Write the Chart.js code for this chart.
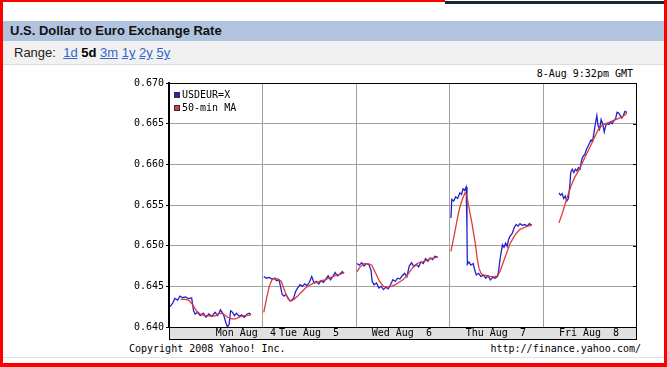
<!DOCTYPE html>
<html>
<head>
<meta charset="utf-8">
<script src="https://cdn.jsdelivr.net/npm/chart.js@4.4.0/dist/chart.umd.min.js"></script>
<style>
  body { margin: 0; width: 667px; height: 367px; overflow: hidden; background: #fff; position: relative; font-family: "Liberation Sans", Arial, sans-serif; }
  .frame { position: absolute; left: 0; top: 0; width: 667px; height: 367px; box-sizing: border-box; border-left: 3px solid #f00; border-right: 3px solid #f00; border-bottom: 4px solid #f00; }
  .top-red { position: absolute; left: 0; top: 0; width: 445px; height: 2px; background: #f00; }
  .top-navy { position: absolute; left: 445px; top: 1px; width: 219px; height: 3px; background: #1b2433; }
  .title { position: absolute; left: 3px; top: 21px; width: 661px; height: 20px; background: #b0c4de; color: #111; font-weight: bold; font-size: 13px; line-height: 20px; padding-left: 7px; box-sizing: border-box; }
  .range { position: absolute; left: 3px; top: 41px; width: 661px; height: 24px; background: #f1f1f1; border-bottom: 1px solid #dcdcdc; box-sizing: border-box; color: #222; font-size: 13px; line-height: 23px; padding-left: 11px; }
  .range a { color: #3366cc; text-decoration: underline; }
  .range b { color: #000; }
  .mono { position: absolute; font-family: "DejaVu Sans Mono", monospace; font-size: 10px; line-height: 12px; color: #000; white-space: pre; }
  .bottom-line { position: absolute; left: 3px; top: 357px; width: 661px; height: 1px; background: #e2e2e2; }
  #wrap { position: absolute; left: 100px; top: 70px; width: 560px; height: 280px; }
</style>
</head>
<body>
<div class="frame"></div>
<div class="top-red"></div>
<div class="top-navy"></div>
<div class="title">U.S. Dollar to Euro Exchange Rate</div>
<div class="range">Range:&nbsp; <a>1d</a> <b>5d</b> <a>3m</a> <a>1y</a> <a>2y</a> <a>5y</a></div>
<div class="mono" style="right:34px;top:68px;">8-Aug 9:32pm GMT</div>
<div class="mono" style="left:129px;top:343px;">Copyright 2008 Yahoo! Inc.</div>
<div class="mono" style="right:26px;top:343px;">http://finance.yahoo.com/</div>
<div class="bottom-line"></div>
<div id="wrap"><canvas id="chart"></canvas></div>

<script>
// hours since Mon 00:00 GMT, rate
const rateMon = [[0.3,0.6425],[1.0,0.6430],[1.5,0.6435],[2.2,0.6433],[2.8,0.6438],[3.5,0.6436],[4.2,0.6437],[5.0,0.6435],[5.8,0.6436],[6.3,0.6420],[6.7,0.6416],[7.3,0.6418],[8.0,0.6414],[8.8,0.6417],[9.5,0.6412],[10.2,0.6416],[11.0,0.6413],[11.8,0.6418],[12.5,0.6414],[13.2,0.6421],[14.0,0.6415],[14.6,0.6405],[15.0,0.6400],[15.4,0.6403],[15.8,0.6420],[16.3,0.6418],[16.8,0.6414],[17.3,0.6417],[18.0,0.6413],[18.6,0.6415],[19.3,0.6412],[20.0,0.6416],[20.6,0.6417],[21.0,0.6415]];
const rateTue = [[24.3,0.6462],[25.0,0.6460],[25.7,0.6461],[26.4,0.6459],[27.0,0.6460],[27.6,0.6457],[28.2,0.6458],[28.6,0.6450],[29.0,0.6440],[29.5,0.6438],[30.0,0.6440],[30.5,0.6436],[31.0,0.6432],[31.5,0.6433],[32.0,0.6436],[32.4,0.6443],[33.0,0.6448],[33.6,0.6452],[34.2,0.6450],[34.8,0.6453],[35.4,0.6451],[36.0,0.6455],[36.6,0.6462],[37.2,0.6454],[37.8,0.6456],[38.4,0.6453],[39.0,0.6457],[39.6,0.6455],[40.2,0.6459],[40.8,0.6463],[41.4,0.6458],[42.0,0.6462],[42.6,0.6467],[43.2,0.6463],[43.8,0.6465],[44.4,0.6468],[44.9,0.6466]];
const rateWed = [[48.2,0.6478],[48.8,0.6476],[49.4,0.6479],[50.0,0.6475],[50.6,0.6478],[51.2,0.6477],[51.8,0.6470],[52.1,0.6456],[52.6,0.6452],[53.2,0.6454],[53.8,0.6448],[54.4,0.6450],[55.0,0.6446],[55.6,0.6449],[56.2,0.6447],[56.8,0.6452],[57.4,0.6458],[58.0,0.6456],[58.6,0.6460],[59.2,0.6459],[59.8,0.6463],[60.4,0.6466],[61.0,0.6462],[61.6,0.6475],[62.2,0.6479],[62.8,0.6474],[63.4,0.6477],[64.0,0.6474],[64.6,0.6480],[65.2,0.6478],[65.8,0.6484],[66.4,0.6481],[67.0,0.6485],[67.6,0.6483],[68.2,0.6487],[68.9,0.6486]];
const rateThu = [[72.3,0.6534],[72.5,0.6557],[73.0,0.6555],[73.5,0.6560],[74.0,0.6558],[74.6,0.6565],[75.0,0.6563],[75.4,0.6570],[75.8,0.6568],[76.2,0.6572],[76.4,0.6520],[76.5,0.6477],[76.9,0.6480],[77.4,0.6476],[78.0,0.6478],[78.4,0.6470],[78.8,0.6464],[79.4,0.6466],[80.0,0.6462],[80.6,0.6464],[81.2,0.6460],[81.8,0.6463],[82.4,0.6458],[83.0,0.6461],[83.6,0.6460],[84.2,0.6462],[84.5,0.6468],[84.8,0.6480],[85.1,0.6490],[85.5,0.6501],[85.9,0.6498],[86.3,0.6503],[86.7,0.6499],[87.1,0.6508],[87.5,0.6512],[88.0,0.6515],[88.5,0.6522],[89.0,0.6526],[89.5,0.6524],[90.0,0.6527],[90.6,0.6525],[91.2,0.6526],[91.8,0.6524],[92.4,0.6527],[93.0,0.6525]];
const rateFri = [[100.0,0.6565],[100.4,0.6562],[100.8,0.6564],[101.2,0.6558],[101.6,0.6561],[102.0,0.6555],[102.4,0.6558],[102.8,0.6575],[103.0,0.6590],[103.4,0.6594],[103.8,0.6590],[104.2,0.6594],[104.6,0.6592],[105.0,0.6596],[105.4,0.6594],[105.8,0.6605],[106.2,0.6610],[106.6,0.6612],[107.0,0.6618],[107.4,0.6622],[107.8,0.6626],[108.2,0.6630],[108.6,0.6628],[109.0,0.6640],[109.4,0.6652],[109.7,0.6660],[110.0,0.6648],[110.4,0.6643],[110.8,0.6655],[111.2,0.6650],[111.6,0.6640],[112.0,0.6648],[112.4,0.6650],[112.8,0.6649],[113.2,0.6652],[113.6,0.6650],[114.0,0.6653],[114.5,0.6656],[114.9,0.6664],[115.3,0.6663],[115.7,0.6660],[116.1,0.6657],[116.5,0.6660],[116.9,0.6665],[117.4,0.6664]];

// 50-minute moving average
const maMon = [[3.0,0.6434],[4.0,0.6434],[5.0,0.6433],[6.0,0.6428],[7.0,0.6420],[8.0,0.6416],[9.0,0.6414],[10.0,0.6414],[11.0,0.6413],[12.0,0.6414],[13.0,0.6417],[14.0,0.6416],[15.0,0.6412],[16.0,0.6410],[17.0,0.6410],[18.0,0.6412],[19.0,0.6414],[20.0,0.6414],[21.0,0.6415]];
const maTue = [[24.3,0.6418],[25.0,0.6435],[25.7,0.6450],[26.4,0.6458],[27.2,0.6460],[28.0,0.6459],[28.8,0.6456],[29.4,0.6448],[30.0,0.6440],[30.6,0.6434],[31.3,0.6432],[32.0,0.6434],[33.0,0.6438],[34.0,0.6443],[35.0,0.6448],[36.0,0.6451],[37.0,0.6454],[38.0,0.6455],[39.0,0.6457],[40.0,0.6458],[41.0,0.6460],[42.0,0.6462],[43.0,0.6464],[44.0,0.6465],[44.9,0.6467]];
const maWed = [[48.2,0.6468],[49.0,0.6474],[50.0,0.6478],[51.0,0.6478],[52.0,0.6476],[53.0,0.6466],[54.0,0.6456],[55.0,0.6450],[56.0,0.6449],[57.0,0.6450],[58.0,0.6452],[59.0,0.6455],[60.0,0.6458],[61.0,0.6463],[62.0,0.6470],[63.0,0.6476],[64.0,0.6479],[65.0,0.6480],[66.0,0.6482],[67.0,0.6484],[68.0,0.6485],[68.9,0.6486]];
const maThu = [[72.3,0.6493],[72.8,0.6505],[73.3,0.6517],[73.8,0.6530],[74.3,0.6542],[74.8,0.6551],[75.3,0.6558],[75.9,0.6565],[76.3,0.6563],[76.8,0.6550],[77.3,0.6537],[77.7,0.6527],[78.1,0.6515],[78.5,0.6504],[79.0,0.6485],[79.5,0.6472],[80.0,0.6466],[80.5,0.6464],[81.5,0.6463],[82.5,0.6462],[83.5,0.6462],[84.3,0.6463],[85.0,0.6470],[85.6,0.6478],[86.5,0.6490],[87.4,0.6502],[88.2,0.6509],[89.0,0.6515],[90.0,0.6520],[91.0,0.6522],[92.0,0.6524],[93.0,0.6525]];
const maFri = [[100.0,0.6528],[101.0,0.6542],[102.0,0.6558],[103.0,0.6572],[104.0,0.6584],[105.0,0.6592],[106.0,0.6602],[107.0,0.6612],[108.0,0.6622],[109.0,0.6632],[110.0,0.6642],[111.0,0.6648],[112.0,0.6650],[113.0,0.6652],[114.0,0.6654],[115.0,0.6656],[116.0,0.6658],[117.0,0.6661],[117.4,0.6663]];

// axis stuff
const dayBounds = [24, 48, 72, 96];
const dayLabels = ['Mon Aug  4', 'Tue Aug  5', 'Wed Aug  6', 'Thu Aug  7', 'Fri Aug  8'];
const dayLabelHours = [19.7, 35.9, 59.7, 83.8, 107.7];
const yTicks = [0.640, 0.645, 0.650, 0.655, 0.660, 0.665, 0.670];

const MONO = '10px "DejaVu Sans Mono", monospace';

// join the trading days, with a break between them
function joinDays(days) {
  const out = [];
  days.forEach((d, i) => {
    if (i > 0) out.push({ x: d[0][0] - 1, y: null });
    d.forEach(p => out.push({ x: p[0], y: p[1] }));
  });
  return out;
}

// frame, x label band, legend
const yahooDecor = {
  id: 'yahooDecor',
  afterDraw(chart) {
    const { ctx, chartArea: a, scales } = chart;
    ctx.save();
    // label band under the plot
    ctx.fillStyle = '#e0e0e0';
    ctx.fillRect(a.left, a.bottom, a.right - a.left, 12);
    ctx.strokeStyle = '#000';
    ctx.lineWidth = 1;
    ctx.strokeRect(a.left + 0.5, a.bottom + 0.5, a.right - a.left - 1, 12);
    ctx.font = MONO;
    ctx.fillStyle = '#000';
    ctx.textAlign = 'center';
    ctx.textBaseline = 'middle';
    dayLabels.forEach((t, i) => {
      ctx.fillText(t, scales.x.getPixelForValue(dayLabelHours[i]), a.bottom + 6.5);
    });
    // plot box
    ctx.beginPath();
    ctx.moveTo(a.left, a.top + 0.5);
    ctx.lineTo(a.right - 0.5, a.top + 0.5);
    ctx.lineTo(a.right - 0.5, a.bottom);
    ctx.stroke();
    // small ticks on the right edge
    yTicks.forEach(v => {
      const y = Math.round(scales.y.getPixelForValue(v)) + 0.5;
      ctx.beginPath();
      ctx.moveTo(a.right - 4, y);
      ctx.lineTo(a.right, y);
      ctx.stroke();
    });
    // legend in the corner
    ctx.textAlign = 'left';
    chart.data.datasets.forEach((ds, i) => {
      const y = a.top + 9 + i * 13;
      ctx.fillStyle = ds.borderColor;
      ctx.fillRect(a.left + 5, y, 6, 6);
      ctx.strokeStyle = '#333';
      ctx.strokeRect(a.left + 5.5, y + 0.5, 5, 5);
      ctx.fillStyle = '#000';
      ctx.fillText(ds.label, a.left + 13, y + 3.5);
    });
    ctx.restore();
  }
};

new Chart(document.getElementById('chart'), {
  type: 'line',
  data: {
    datasets: [
      {
        label: 'USDEUR=X',
        data: joinDays([rateMon, rateTue, rateWed, rateThu, rateFri]),
        borderColor: '#2222cc',
        borderWidth: 1.3,
        pointRadius: 0,
        tension: 0,
        spanGaps: false,
        order: 2
      },
      {
        label: '50-min MA',
        data: joinDays([maMon, maTue, maWed, maThu, maFri]),
        borderColor: '#e03a3a',
        borderWidth: 1.3,
        pointRadius: 0,
        tension: 0,
        spanGaps: false,
        order: 1
      }
    ]
  },
  options: {
    responsive: true,
    maintainAspectRatio: false,
    animation: false,
    events: [],
    layout: { padding: { top: 13, right: 23, bottom: 11, left: 0 } },
    plugins: { legend: { display: false }, tooltip: { enabled: false } },
    scales: {
      x: {
        type: 'linear',
        min: 0,
        max: 120,
        afterBuildTicks: s => { s.ticks = dayBounds.map(v => ({ value: v })); },
        afterFit: s => { s.height = 12; },
        ticks: { display: false },
        grid: { color: '#a0a0a0', drawTicks: false },
        border: { display: false }
      },
      y: {
        min: 0.640,
        max: 0.670,
        afterBuildTicks: s => { s.ticks = yTicks.map(v => ({ value: v })); },
        afterFit: s => { s.width = 69; },
        ticks: {
          color: '#000',
          font: { family: '"DejaVu Sans Mono", monospace', size: 10 },
          padding: 2,
          callback: v => Number(v).toFixed(3)
        },
        grid: { color: '#a0a0a0', tickColor: '#000', tickLength: 3 },
        border: { color: '#000', width: 2 }
      }
    }
  },
  plugins: [yahooDecor]
});
</script>
</body>
</html>
